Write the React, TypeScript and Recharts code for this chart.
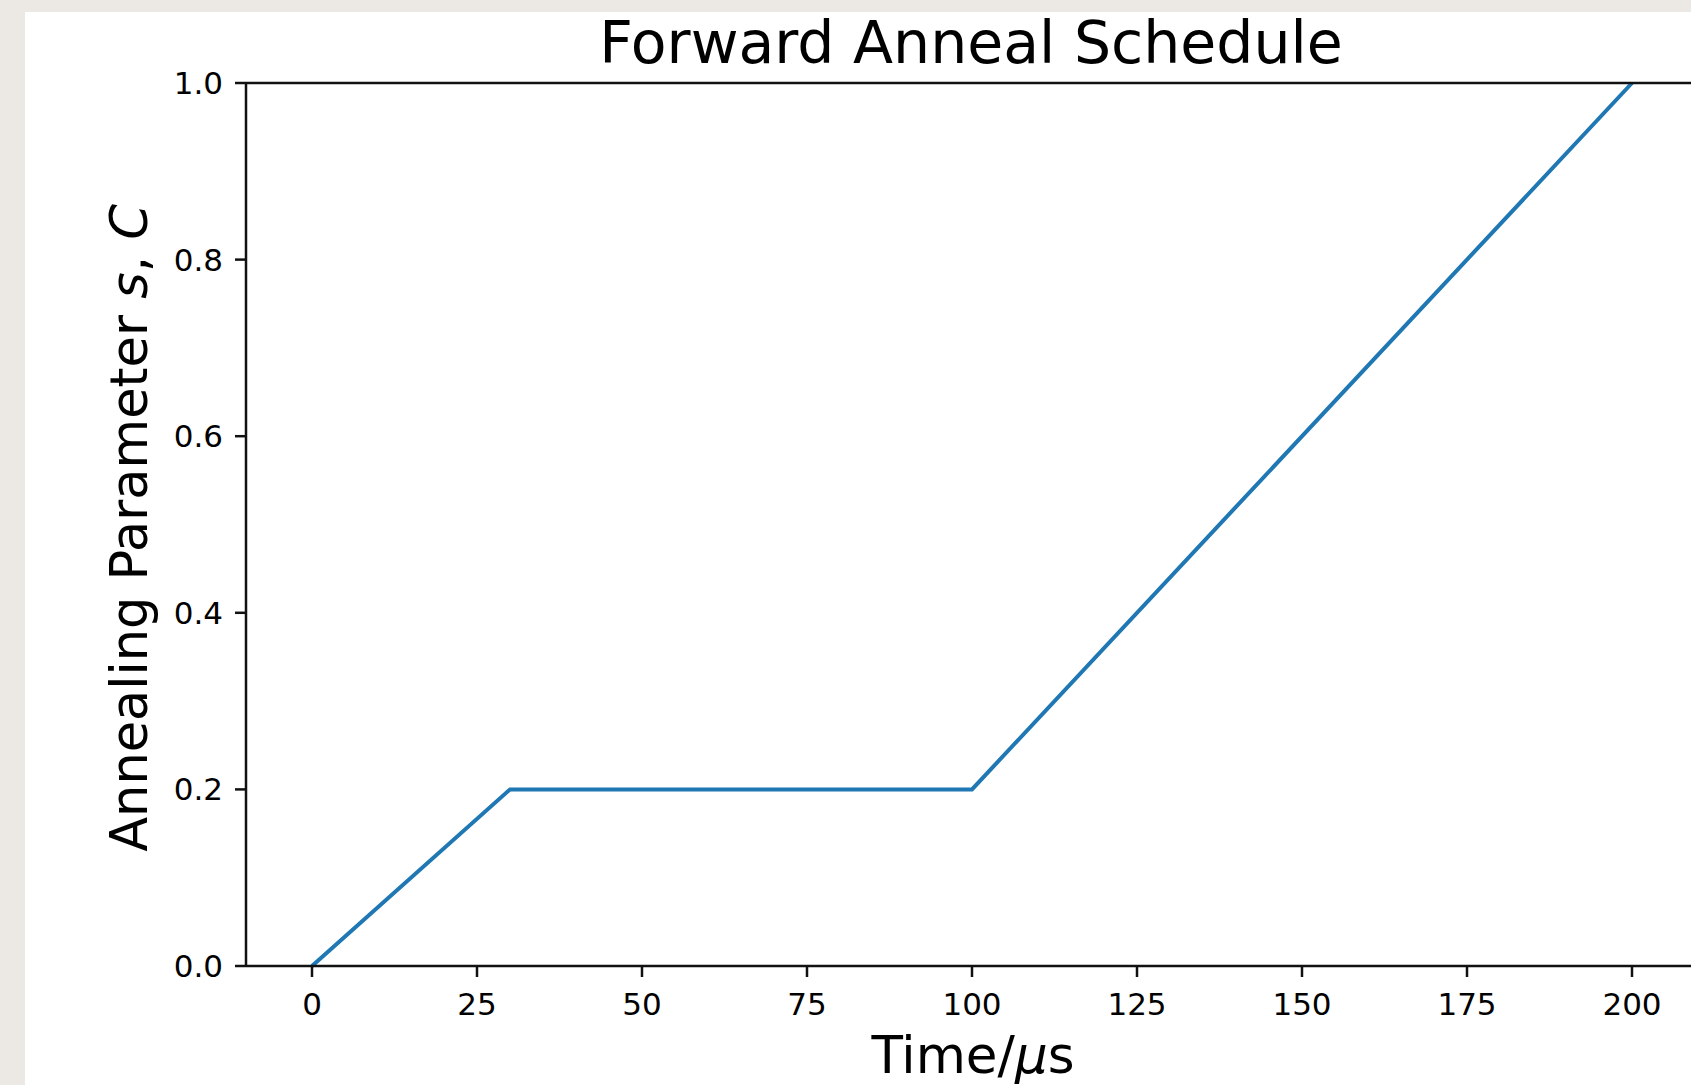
import React from "react";
import { LineChart, Line, XAxis, YAxis, ReferenceLine } from "recharts";

// Schedule points (time in µs, annealing parameter s)
const times = [0, 30, 100, 200];
const sValues = [0, 0.2, 0.2, 1.0];

const xTicks = [0, 25, 50, 75, 100, 125, 150, 175, 200];
const yTicks = [0, 0.2, 0.4, 0.6, 0.8, 1.0];
const xDomain = [-10, 210];
const yDomain = [0, 1];

const titleText = "Forward Anneal Schedule";

const data = times.map((t, i) => ({ t, s: sValues[i] }));

const FONT = "'DejaVu Sans', sans-serif";

export default function App() {
  const axisStroke = "#111";
  const tickStyle = { fontSize: 31, fontFamily: FONT, fill: "#000" };
  return (
    <div
      style={{
        position: "fixed",
        left: 0,
        top: 0,
        width: 1691,
        height: 1085,
        background: "#ece9e4",
        overflow: "hidden",
      }}
    >
      <div
        style={{
          position: "absolute",
          left: 25,
          top: 12,
          right: 0,
          bottom: 0,
          background: "#ffffff",
        }}
      />
      <div style={{ position: "absolute", left: 0, top: 0 }}>
        <LineChart
          width={1760}
          height={1085}
          data={data}
          margin={{ top: 83, right: 62, bottom: 39, left: 146 }}
        >
          <XAxis
            dataKey="t"
            type="number"
            domain={xDomain}
            ticks={xTicks}
            allowDataOverflow
            height={80}
            tickSize={11}
            tickMargin={16}
            axisLine={{ stroke: axisStroke, strokeWidth: 2.5 }}
            tickLine={{ stroke: axisStroke, strokeWidth: 2.5 }}
            tick={tickStyle}
          />
          <YAxis
            type="number"
            domain={yDomain}
            ticks={yTicks}
            width={100}
            tickSize={11}
            tickMargin={12}
            tickFormatter={(v: number) => v.toFixed(1)}
            axisLine={{ stroke: axisStroke, strokeWidth: 2.5 }}
            tickLine={{ stroke: axisStroke, strokeWidth: 2.5 }}
            tick={tickStyle}
          />
          <Line
            type="linear"
            dataKey="s"
            stroke="#1f77b4"
            strokeWidth={4}
            dot={false}
            activeDot={false}
            isAnimationActive={false}
          />
          <ReferenceLine
            y={1}
            stroke={axisStroke}
            strokeWidth={2.5}
            ifOverflow="visible"
          />
        </LineChart>
      </div>
      <svg
        width={1691}
        height={1085}
        style={{ position: "absolute", left: 0, top: 0, pointerEvents: "none" }}
      >
        <text
          x={971}
          y={63}
          textAnchor="middle"
          fontFamily={FONT}
          fontSize={58.5}
          fill="#000"
        >
          {titleText}
        </text>
        <text
          x={973}
          y={1073}
          textAnchor="middle"
          fontFamily={FONT}
          fontSize={51.5}
          fill="#000"
        >
          Time/<tspan fontStyle="italic">μ</tspan>s
        </text>
        <text
          transform="translate(147,528) rotate(-90)"
          textAnchor="middle"
          fontFamily={FONT}
          fontSize={51}
          fill="#000"
        >
          Annealing Parameter <tspan fontStyle="italic">s</tspan>,{" "}
          <tspan fontStyle="italic">C</tspan>
        </text>
      </svg>
    </div>
  );
}
